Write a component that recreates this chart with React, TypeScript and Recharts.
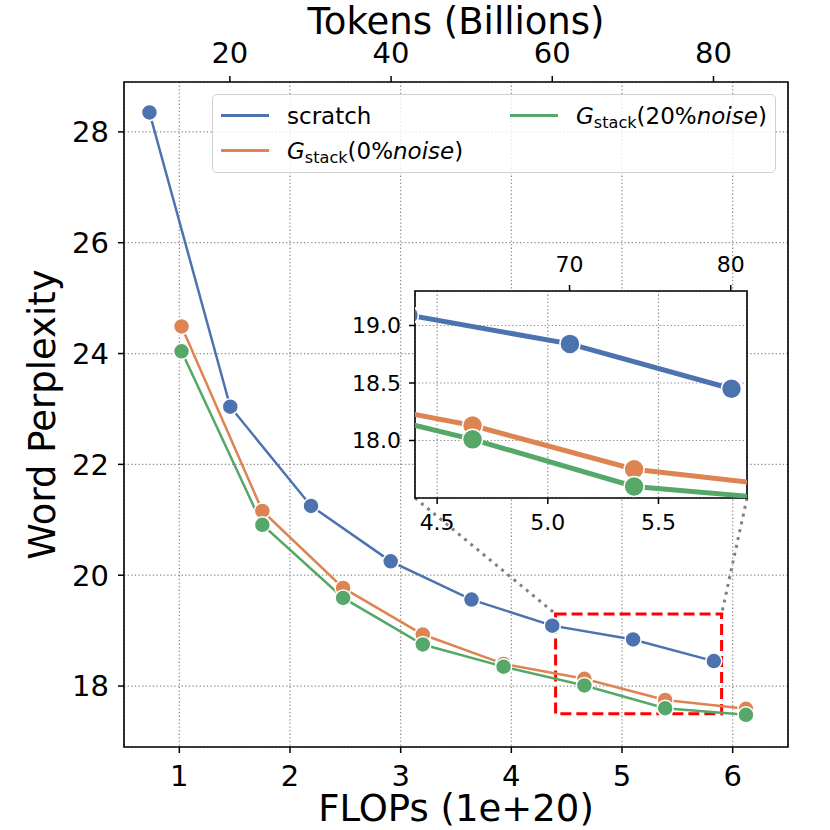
import {
  CartesianGrid,
  ComposedChart,
  Label,
  Legend,
  Line,
  ReferenceArea,
  ReferenceLine,
  XAxis,
  YAxis,
} from 'recharts'

// values
const SCRATCH_FLOPS = [0.73, 1.46, 2.19, 2.91, 3.64, 4.37, 5.1, 5.83]
const SCRATCH_PPL = [28.35, 23.04, 21.25, 20.25, 19.56, 19.09, 18.84, 18.45]
const STACK_FLOPS = [1.02, 1.75, 2.48, 3.2, 3.93, 4.66, 5.39, 6.12]
const STACK0_PPL = [24.49, 21.16, 19.77, 18.93, 18.4, 18.13, 17.75, 17.59]
const STACK20_PPL = [24.04, 20.91, 19.59, 18.75, 18.35, 18.01, 17.6, 17.48]

const FLOPS_TICKS = [1, 2, 3, 4, 5, 6]
const PPL_TICKS = [18, 20, 22, 24, 26, 28]
const TOKEN_TICKS = [20, 40, 60, 80]
const INSET_FLOPS_TICKS = [4.5, 5.0, 5.5]
const INSET_PPL_TICKS = [18.0, 18.5, 19.0]
const INSET_TOKEN_TICKS = [70, 80]

const TOKENS_PER_FLOP = 13.73
const X_DOMAIN: [number, number] = [0.5, 6.5]
const Y_DOMAIN: [number, number] = [16.9, 28.9]
const INSET_X: [number, number] = [4.4, 5.9]
const INSET_Y: [number, number] = [17.5, 19.3]

const FONT = '"DejaVu Sans", sans-serif'
const GRID = '#8c8c8c'

// page pixel boxes of the two plot areas
const MAIN = { left: 124, top: 82, right: 788, bottom: 747 }
const INSET = { left: 415, top: 291, right: 747, bottom: 498 }
const INSET_CHART = { left: 330, top: 230, width: 440, height: 308 }

// the top axis reads the same points in tokens
const toRows = (xs: number[], ys: number[]) => xs.map((x, i) => ({ x, tokens: x * TOKENS_PER_FLOP, y: ys[i] }))

const StackLabel = ({ pct }: { pct: number }) => (
  <span>
    <i>G</i>
    <span style={{ fontSize: '0.7em', position: 'relative', top: '0.3em' }}>stack</span>({pct}%<i>noise</i>)
  </span>
)

const SERIES = [
  { key: 'scratch', color: '#4c72b0', data: toRows(SCRATCH_FLOPS, SCRATCH_PPL), label: <span>scratch</span>, col: 0, row: 0 },
  { key: 'stack0', color: '#dd8452', data: toRows(STACK_FLOPS, STACK0_PPL), label: <StackLabel pct={0} />, col: 0, row: 1 },
  { key: 'stack20', color: '#55a868', data: toRows(STACK_FLOPS, STACK20_PPL), label: <StackLabel pct={20} />, col: 1, row: 0 },
]

// page pixel -> main data coords (used for the zoom connector lines)
const pxToMain = (px: number, py: number) => ({
  x: X_DOMAIN[0] + ((px - MAIN.left) / (MAIN.right - MAIN.left)) * (X_DOMAIN[1] - X_DOMAIN[0]),
  y: Y_DOMAIN[1] - ((py - MAIN.top) / (MAIN.bottom - MAIN.top)) * (Y_DOMAIN[1] - Y_DOMAIN[0]),
})

function LegendBox() {
  return (
    <div
      style={{
        position: 'relative',
        width: 564,
        height: 79,
        boxSizing: 'border-box',
        border: '1px solid #d0d0d0',
        borderRadius: 5,
        background: 'rgba(255,255,255,0.8)',
        fontFamily: FONT,
        fontSize: 23,
        color: '#000',
      }}
    >
      {SERIES.map((s) => (
        <div
          key={s.key}
          style={{
            position: 'absolute',
            left: s.col === 0 ? 8 : 297,
            top: s.row === 0 ? 3 : 38,
            height: 35,
            display: 'flex',
            alignItems: 'center',
            whiteSpace: 'nowrap',
          }}
        >
          <div style={{ width: 48, height: 3, background: s.color, marginRight: 18 }} />
          {s.label}
        </div>
      ))}
    </div>
  )
}

const tickStyle = { fill: '#000', fontSize: 29, fontFamily: FONT }
const insetTickStyle = { fill: '#000', fontSize: 22, fontFamily: FONT }
const tickLine = { stroke: '#000', strokeWidth: 1.5 }

// invisible series so the tokens axis gets a scale
const TokenCarrier = () => (
  <Line
    xAxisId="tokens"
    data={SERIES[0].data}
    dataKey="y"
    stroke="none"
    dot={false}
    activeDot={false}
    legendType="none"
    isAnimationActive={false}
  />
)

export default function App() {
  const c1 = pxToMain(INSET.left, INSET.bottom)
  const c2 = pxToMain(INSET.right, INSET.bottom)
  return (
    <div style={{ position: 'absolute', left: 0, top: 0, width: 830, height: 830, background: '#fff', fontFamily: FONT }}>
      <ComposedChart
        width={830}
        height={830}
        margin={{ top: 0, right: 830 - MAIN.right, bottom: 0, left: MAIN.left - 110 }}
      >
        <CartesianGrid stroke={GRID} strokeWidth={1.2} strokeDasharray="1.3 2.3" />
        <XAxis
          type="number"
          dataKey="x"
          domain={X_DOMAIN}
          ticks={FLOPS_TICKS}
          interval={0}
          height={830 - MAIN.bottom}
          axisLine={false}
          tickLine={tickLine}
          tickSize={6}
          tickMargin={12}
          tick={tickStyle}
        >
          <Label value="FLOPs (1e+20)" position="insideBottom" offset={9} style={{ fontSize: 37, fill: '#000', fontFamily: FONT }} />
        </XAxis>
        <XAxis
          xAxisId="tokens"
          orientation="top"
          type="number"
          dataKey="tokens"
          domain={[X_DOMAIN[0] * TOKENS_PER_FLOP, X_DOMAIN[1] * TOKENS_PER_FLOP]}
          allowDataOverflow
          ticks={TOKEN_TICKS}
          interval={0}
          height={MAIN.top}
          axisLine={false}
          tickLine={tickLine}
          tickSize={6}
          tickMargin={13}
          tick={tickStyle}
        >
          <Label value="Tokens (Billions)" position="insideTop" offset={8} style={{ fontSize: 37, fill: '#000', fontFamily: FONT }} />
        </XAxis>
        <YAxis
          type="number"
          dataKey="y"
          domain={Y_DOMAIN}
          ticks={PPL_TICKS}
          interval={0}
          width={110}
          axisLine={false}
          tickLine={tickLine}
          tickSize={6}
          tickMargin={9}
          tick={tickStyle}
        >
          <Label
            value="Word Perplexity"
            position="insideLeft"
            angle={-90}
            offset={28}
            style={{ fontSize: 37, fill: '#000', fontFamily: FONT, textAnchor: 'middle' }}
          />
        </YAxis>
        {TokenCarrier()}
        {SERIES.map((s) => (
          <Line
            key={s.key}
            type="linear"
            data={s.data}
            dataKey="y"
            stroke={s.color}
            strokeWidth={2.5}
            dot={{ r: 8, fill: s.color, stroke: '#fff', strokeWidth: 1.5 }}
            activeDot={false}
            isAnimationActive={false}
          />
        ))}
        <ReferenceArea
          x1={INSET_X[0]}
          x2={INSET_X[1]}
          y1={INSET_Y[0]}
          y2={INSET_Y[1]}
          fill="none"
          stroke="#ff0000"
          strokeWidth={3}
          strokeDasharray="11 5"
        />
        <ReferenceLine
          segment={[c1, { x: INSET_X[0], y: INSET_Y[1] }]}
          stroke="#808080"
          strokeWidth={3}
          strokeDasharray="3 5"
        />
        <ReferenceLine
          segment={[c2, { x: INSET_X[1], y: INSET_Y[1] }]}
          stroke="#808080"
          strokeWidth={3}
          strokeDasharray="3 5"
        />
        <ReferenceArea x1={X_DOMAIN[0]} x2={X_DOMAIN[1]} y1={Y_DOMAIN[0]} y2={Y_DOMAIN[1]} fill="none" stroke="#000" strokeWidth={1.6} />
        <Legend
          layout="horizontal"
          verticalAlign="middle"
          align="center"
          wrapperStyle={{ left: 212, top: 94, width: 564, height: 79 }}
          content={() => <LegendBox />}
        />
      </ComposedChart>

      <div style={{ position: 'absolute', left: INSET_CHART.left, top: INSET_CHART.top }}>
        <ComposedChart
          width={INSET_CHART.width}
          height={INSET_CHART.height}
          margin={{
            top: INSET.top - INSET_CHART.top - 50,
            right: INSET_CHART.left + INSET_CHART.width - INSET.right,
            bottom: INSET_CHART.top + INSET_CHART.height - INSET.bottom - 40,
            left: INSET.left - INSET_CHART.left - 60,
          }}
        >
          <CartesianGrid fill="#fff" fillOpacity={1} stroke={GRID} strokeWidth={1.2} strokeDasharray="1.3 2.3" />
          <XAxis
            type="number"
            dataKey="x"
            domain={INSET_X}
            allowDataOverflow
            ticks={INSET_FLOPS_TICKS}
            interval={0}
            height={40}
            axisLine={false}
            tickLine={tickLine}
            tickSize={6}
            tickMargin={10}
            tick={insetTickStyle}
            tickFormatter={(v: number) => v.toFixed(1)}
          />
          <XAxis
            xAxisId="tokens"
            orientation="top"
            type="number"
            dataKey="tokens"
            domain={[INSET_X[0] * TOKENS_PER_FLOP, INSET_X[1] * TOKENS_PER_FLOP]}
            allowDataOverflow
            ticks={INSET_TOKEN_TICKS}
            interval={0}
            height={50}
            axisLine={false}
            tickLine={tickLine}
            tickSize={6}
            tickMargin={13}
            tick={insetTickStyle}
          />
          <YAxis
            type="number"
            dataKey="y"
            domain={INSET_Y}
            allowDataOverflow
            ticks={INSET_PPL_TICKS}
            interval={0}
            width={60}
            axisLine={false}
            tickLine={tickLine}
            tickSize={6}
            tickMargin={8}
            tick={insetTickStyle}
            tickFormatter={(v: number) => v.toFixed(1)}
          />
          {TokenCarrier()}
          {SERIES.map((s) => (
            <Line
              key={s.key}
              type="linear"
              data={s.data}
              dataKey="y"
              stroke={s.color}
              strokeWidth={5}
              dot={{ r: 10, fill: s.color, stroke: '#fff', strokeWidth: 1.5 }}
              activeDot={false}
              isAnimationActive={false}
            />
          ))}
          <ReferenceArea x1={INSET_X[0]} x2={INSET_X[1]} y1={INSET_Y[0]} y2={INSET_Y[1]} fill="none" stroke="#000" strokeWidth={1.6} />
        </ComposedChart>
      </div>
    </div>
  )
}
